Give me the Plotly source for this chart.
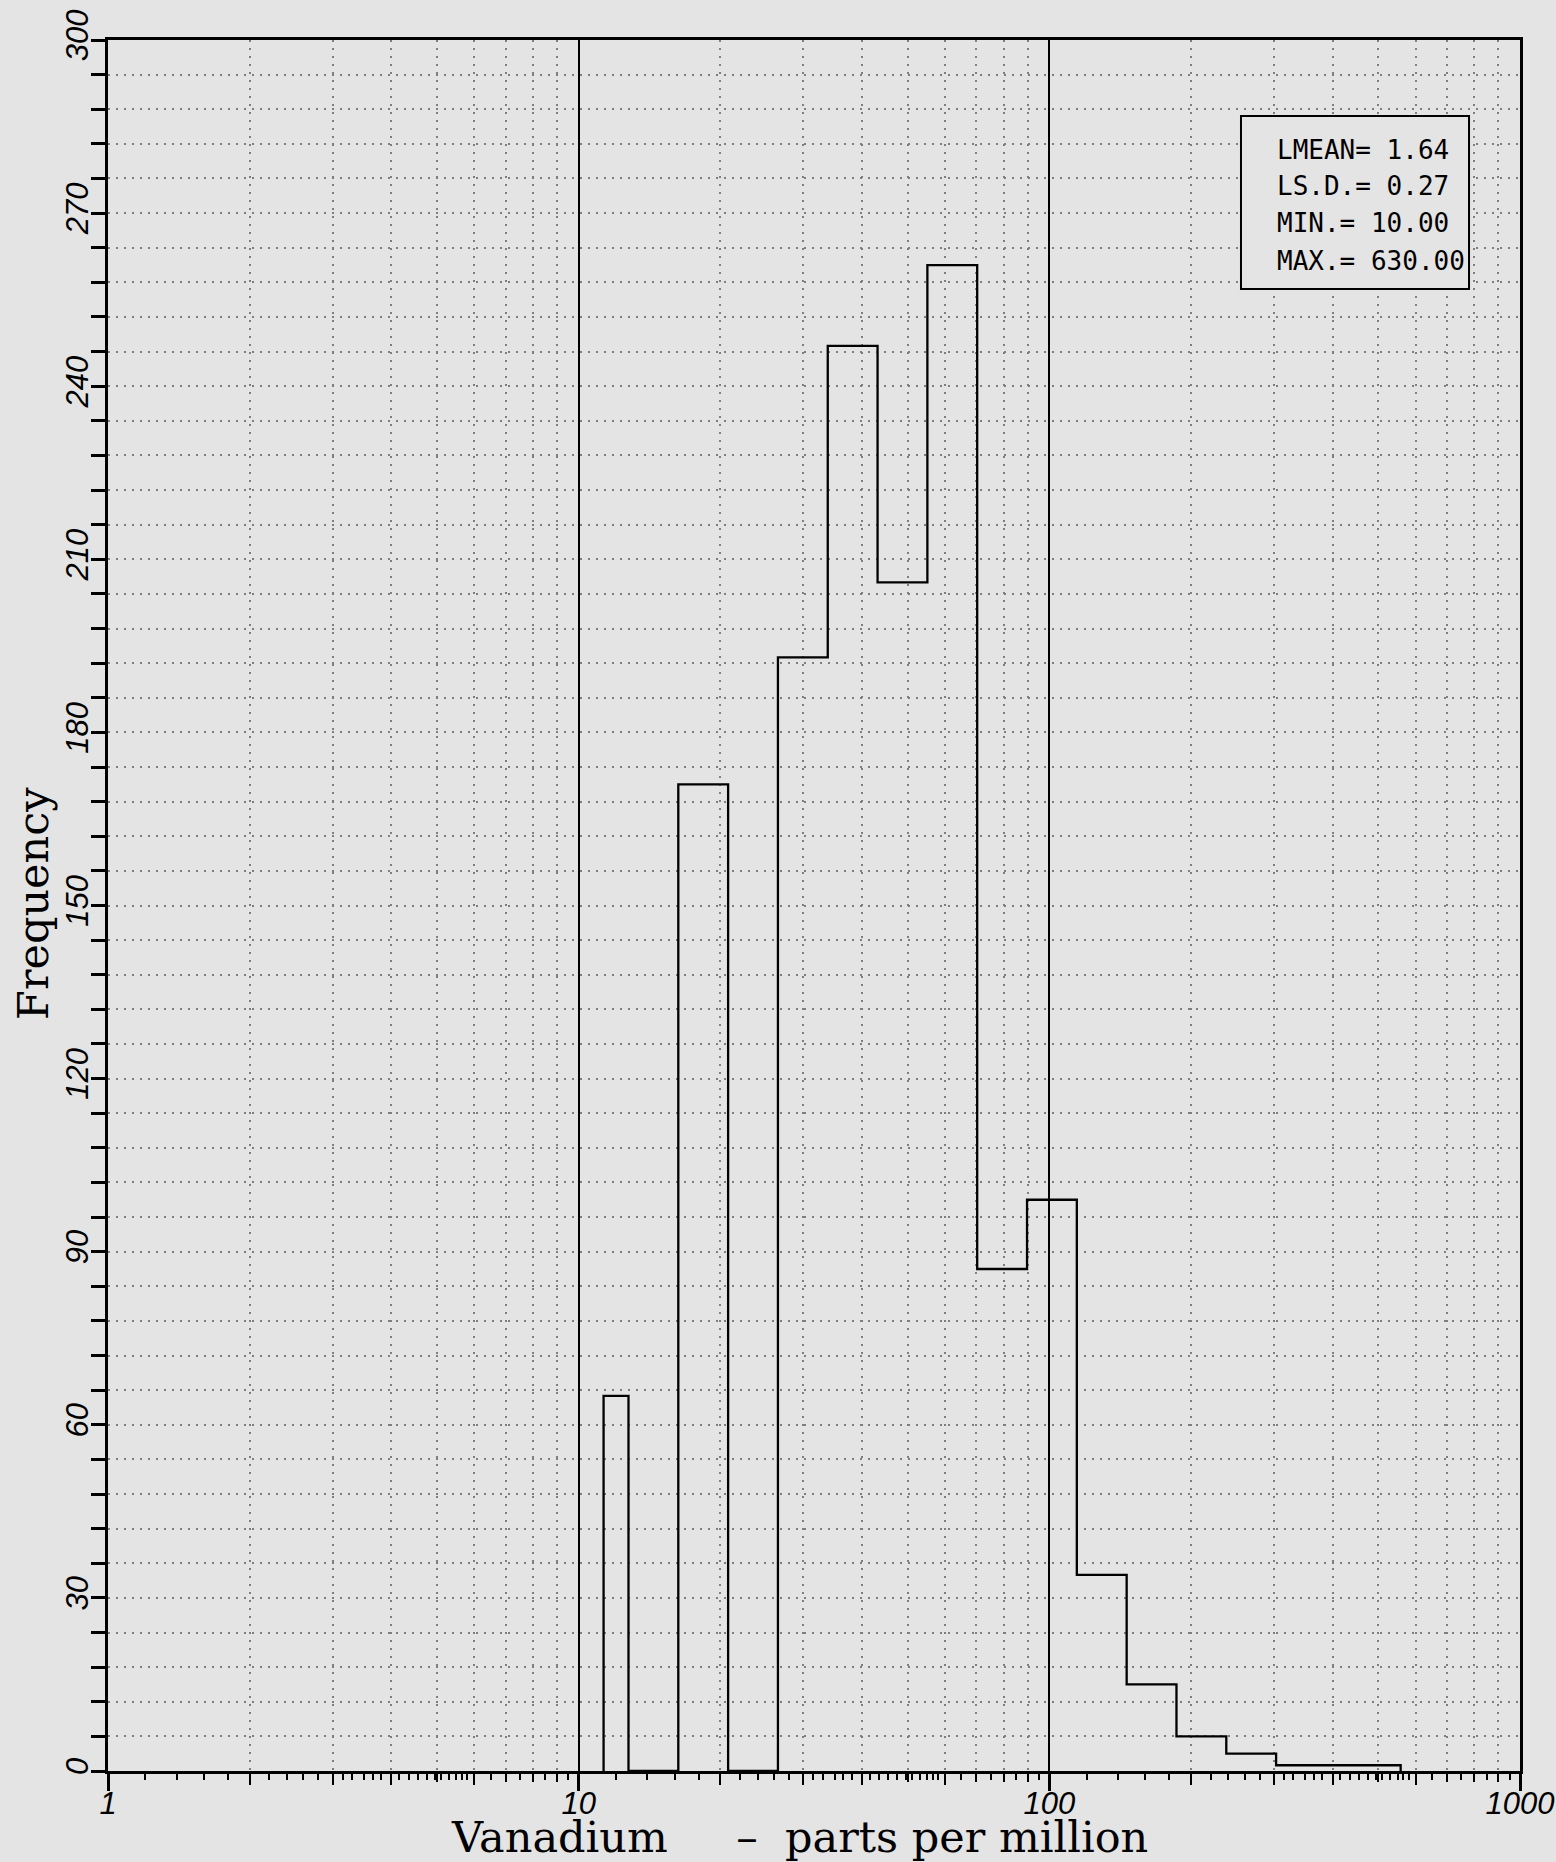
import plotly.graph_objects as go

# ---- data ----
bin_edges_ppm = [11.296, 12.760, 16.281, 20.775, 26.508, 33.824, 43.158, 55.067,
                 70.263, 89.663, 114.40, 145.98, 186.26, 237.66, 303.26, 386.95,
                 493.73, 557.71]
frequency = [65, 0, 171, 0, 193, 247, 206, 261, 87, 99, 34, 15, 6, 3, 1, 1, 1]

x_tick_vals = [1, 10, 100, 1000]
x_tick_text = ["1", "10", "100", "1000"]
y_tick_vals = [0, 30, 60, 90, 120, 150, 180, 210, 240, 270, 300]
y_tick_text = ["0", "30", "60", "90", "120", "150", "180", "210", "240", "270", "300"]

stat_names = ["LMEAN", "LS.D.", "MIN.", "MAX."]
stat_values = ["1.64", "0.27", "10.00", "630.00"]

x_title = "Vanadium\u00a0\u00a0\u00a0\u00a0\u00a0–\u00a0\u00a0parts per million"
y_title = "Frequency"

# ---- styling helpers ----
BG = "#e4e4e4"
GRID = "#7e7e7e"
DOTS = "2px,6px"
decades = [1, 10, 100]
grid_minor = [m * d for d in decades for m in [2, 3, 4, 5, 6, 7, 8, 9]]
long_minor = [m * d for d in decades for m in [2, 3, 4, 6]]
fine = [1.2, 1.4, 1.6, 1.8, 2.2, 2.4, 2.6, 2.8, 3.15, 3.3, 3.5, 3.65, 3.8,
        4.15, 4.35, 4.55, 4.75, 4.95, 5.1, 5.3, 5.5, 5.65, 5.8,
        6.5, 7, 7.5, 8, 8.5, 9, 9.5]
fine_ticks = [f * d for d in decades for f in fine]

step_x = [bin_edges_ppm[0]] + bin_edges_ppm
step_y = [0] + frequency + [0]

fig = go.Figure()
fig.add_trace(go.Scatter(
    x=step_x, y=step_y, mode="lines",
    line=dict(color="black", width=2.3, shape="hv"),
    showlegend=False, hoverinfo="skip"))
# invisible helper trace for the overlaid tick axis
fig.add_trace(go.Scatter(
    x=[1, 1000], y=[0, 0], mode="lines", line=dict(width=0),
    xaxis="x2", yaxis="y", showlegend=False, hoverinfo="skip"))

tick_font = dict(family="Liberation Sans", size=31, color="black", style="italic")
title_font = dict(family="DejaVu Serif", size=43, color="black")

fig.update_layout(
    width=1556, height=1862,
    paper_bgcolor=BG, plot_bgcolor=BG,
    margin=dict(l=108, r=36, t=40, b=91, autoexpand=False),
    xaxis=dict(
        type="log", range=[0, 3], automargin=False,
        tickmode="array", tickvals=x_tick_vals, ticktext=x_tick_text,
        ticks="outside", ticklen=17, tickwidth=2.5, tickcolor="black",
        tickfont=tick_font, ticklabelstandoff=-14,
        showline=True, linecolor="black", linewidth=3, mirror=True,
        showgrid=True, gridcolor="black", gridwidth=1.6,
        zeroline=False,
        minor=dict(tickmode="array", tickvals=grid_minor, ticks="outside",
                   ticklen=8, tickwidth=2, tickcolor="black",
                   showgrid=True, gridcolor=GRID, gridwidth=1.6, griddash=DOTS),
    ),
    xaxis2=dict(
        type="log", range=[0, 3], overlaying="x", anchor="y", side="bottom",
        automargin=False,
        tickmode="array", tickvals=long_minor, ticks="outside", ticklen=13,
        tickwidth=2, tickcolor="black", showticklabels=False,
        showgrid=False, showline=False, zeroline=False,
        minor=dict(tickmode="array", tickvals=fine_ticks, ticks="outside",
                   ticklen=8, tickwidth=2, tickcolor="black", showgrid=False),
    ),
    yaxis=dict(
        range=[0, 300], automargin=False,
        tickmode="array", tickvals=y_tick_vals, ticktext=y_tick_text,
        tickangle=-90,
        ticks="outside", ticklen=14, tickwidth=2.5, tickcolor="black",
        tickfont=tick_font, ticklabelstandoff=-9,
        showline=True, linecolor="black", linewidth=3, mirror=True,
        showgrid=True, gridcolor=GRID, gridwidth=1.6, griddash=DOTS,
        zeroline=False,
        minor=dict(dtick=6, ticks="outside", ticklen=14, tickwidth=2.5,
                   tickcolor="black", showgrid=True, gridcolor=GRID,
                   gridwidth=1.6, griddash=DOTS),
    ),
)

# axis titles
fig.add_annotation(xref="paper", yref="paper", x=0.490, y=0, yshift=-66,
                   xanchor="center", yanchor="middle", showarrow=False,
                   text=x_title, font=title_font)
fig.add_annotation(xref="paper", yref="paper", x=0, xshift=-75, y=0.5009,
                   xanchor="center", yanchor="middle", showarrow=False,
                   textangle=-90, text=y_title, font=title_font)

# statistics box
fig.add_shape(type="rect", xref="paper", yref="paper",
              x0=0.8024, x1=0.9639, y0=0.8562, y1=0.9561,
              line=dict(color="black", width=2), fillcolor=BG, layer="above")
line_y = [0.9365, 0.9154, 0.8944, 0.8724]
for name, val, yy in zip(stat_names, stat_values, line_y):
    fig.add_annotation(xref="paper", yref="paper", x=0.8265, y=yy,
                       xanchor="left", yanchor="middle", showarrow=False,
                       text=f"{name}= {val}",
                       font=dict(family="DejaVu Sans Mono", size=26, color="black"))

fig.write_html(
    "out.html",
    config={"displayModeBar": False},
    post_script="document.body.style.margin='0';document.body.style.overflow='hidden';")
